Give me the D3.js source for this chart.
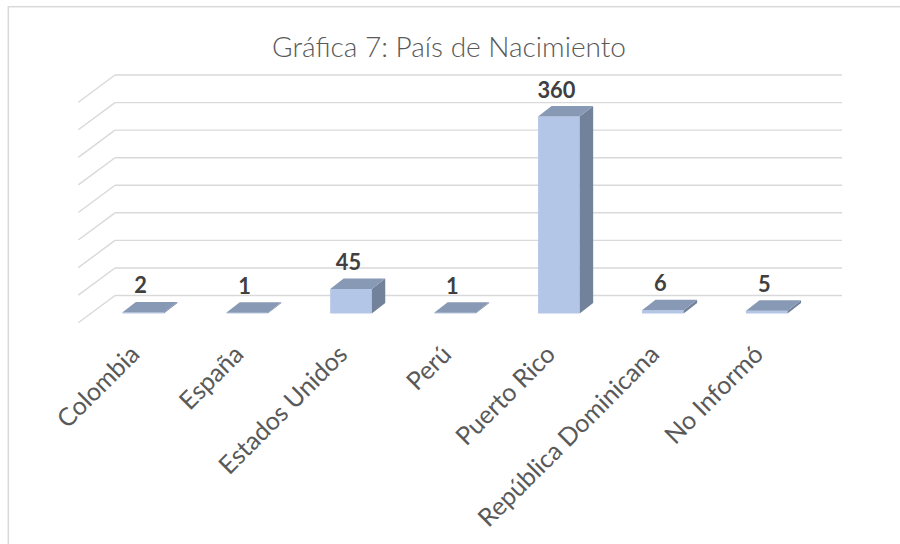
<!DOCTYPE html>
<html>
<head>
<meta charset="utf-8">
<script src="https://cdn.jsdelivr.net/npm/d3@7"></script>
<style>
  html, body { margin: 0; padding: 0; background: #ffffff; }
  svg { display: block; }
</style>
</head>
<body>
<svg id="chart" width="900" height="544"></svg>
<script>
const titleText = "Gráfica 7: País de Nacimiento";
const categories = ["Colombia", "España", "Estados Unidos", "Perú", "Puerto Rico", "República Dominicana", "No Informó"];
const values = [2, 1, 45, 1, 360, 6, 5];
const gridTicks = [0, 50, 100, 150, 200, 250, 300, 350, 400];

const svg = d3.select("#chart");

// frame
svg.append("rect")
  .attr("x", 8.3).attr("y", 6.7)
  .attr("width", 920).attr("height", 560)
  .attr("fill", "#ffffff")
  .attr("stroke", "#d9d9d9").attr("stroke-width", 1.5);

// geometry of the 3D box
const wallLeft = 115, wallRight = 842;
const floorDx = -36.7, floorDy = 27.2;   // back wall -> front floor edge
const barDx = 13.5, barDy = -10.5;       // bar front -> bar back

const wallY = d3.scaleLinear().domain([0, 400]).range([295.5, 295.5 - 400 * 0.5512]);
const barY = d3.scaleLinear().domain([0, 400]).range([313.5, 313.5 - 400 * 0.547]);
const x = d3.scaleBand().domain(categories).range([91.1, 818.75]).paddingInner(0.6).paddingOuter(0.3);

// gridlines: back wall + side wall
const grid = svg.append("g").attr("stroke", "#d9d9d9").attr("stroke-width", 1.4).attr("fill", "none");
grid.selectAll("line.h").data(gridTicks).join("line").attr("class", "h")
  .attr("x1", wallLeft).attr("x2", wallRight)
  .attr("y1", d => wallY(d)).attr("y2", d => wallY(d));
grid.selectAll("line.d").data(gridTicks).join("line").attr("class", "d")
  .attr("x1", wallLeft).attr("y1", d => wallY(d))
  .attr("x2", wallLeft + floorDx).attr("y2", d => wallY(d) + floorDy);

// bars
const data = categories.map((c, i) => ({ c, v: values[i] }));
const bw = x.bandwidth();
const bars = svg.append("g");
const pts = a => a.map(p => p.join(",")).join(" ");

bars.selectAll("polygon.front").data(data).join("polygon").attr("class", "front")
  .attr("fill", "#b3c6e7")
  .attr("points", d => {
    const x0 = x(d.c), x1 = x0 + bw, y0 = barY(0), y1 = Math.min(barY(d.v), y0 - 0.8);
    return pts([[x0, y0], [x1, y0], [x1, y1], [x0, y1]]);
  });
bars.selectAll("polygon.side").data(data).join("polygon").attr("class", "side")
  .attr("fill", "#72829b")
  .attr("points", d => {
    const x1 = x(d.c) + bw, y0 = barY(0), y1 = Math.min(barY(d.v), y0 - 0.8);
    return pts([[x1, y0], [x1 + barDx, y0 + barDy], [x1 + barDx, y1 + barDy], [x1, y1]]);
  });
bars.selectAll("polygon.top").data(data).join("polygon").attr("class", "top")
  .attr("fill", "#8899b5")
  .attr("points", d => {
    const x0 = x(d.c), x1 = x0 + bw, y1 = Math.min(barY(d.v), barY(0) - 0.8);
    return pts([[x0, y1], [x1, y1], [x1 + barDx, y1 + barDy], [x0 + barDx, y1 + barDy]]);
  });

// fit helper
function fitFont(sel, target, base) {
  const w = sel.node().getComputedTextLength();
  const size = base * target / w;
  sel.attr("font-size", size);
  return size;
}

// value labels
const labelG = svg.append("g");
const probe = labelG.append("text").attr("font-family", "Lato, 'Open Sans', sans-serif")
  .attr("font-weight", "bold").attr("font-size", 100).text("360");
const vSize = fitFont(probe, 38, 100);
probe.remove();
labelG.selectAll("text").data(data).join("text")
  .attr("font-family", "Lato, 'Open Sans', sans-serif")
  .attr("font-weight", "bold")
  .attr("font-size", vSize)
  .attr("fill", "#404040")
  .attr("text-anchor", "middle")
  .attr("x", d => x(d.c) + bw / 2 - 2.5)
  .attr("y", d => barY(d.v) + barDy - 8.5)
  .text(d => d.v);

// category labels
const catG = svg.append("g");
const probe2 = catG.append("text").attr("font-family", "Lato, 'Open Sans', sans-serif")
  .attr("font-size", 100).text("Colombia");
const cSize = fitFont(probe2, 104, 100);
probe2.remove();
catG.selectAll("text").data(categories).join("text")
  .attr("font-family", "Lato, 'Open Sans', sans-serif")
  .attr("font-size", cSize)
  .attr("fill", "#595959")
  .attr("text-anchor", "end")
  .attr("transform", d => `translate(${x(d) + bw / 2 - 2},356) rotate(-45)`)
  .text(d => d);

// title
const t = svg.append("text")
  .attr("font-family", "Lato, 'Open Sans', sans-serif")
  .attr("font-weight", 300)
  .attr("font-size", 100)
  .attr("fill", "#595959")
  .attr("text-anchor", "middle")
  .attr("x", 449).attr("y", 57)
  .text(titleText);
fitFont(t, 354, 100);
</script>
</body>
</html>
